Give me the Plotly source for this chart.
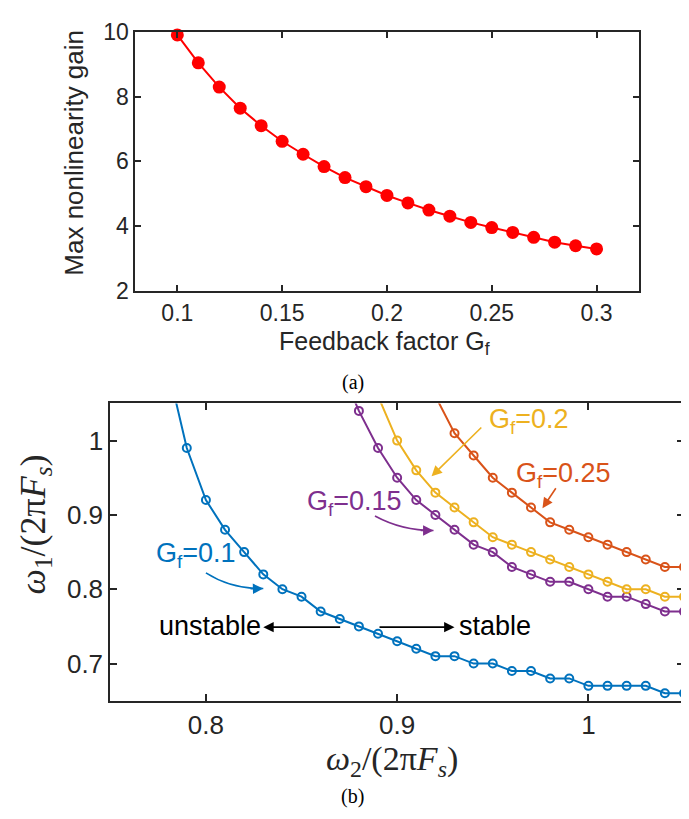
import plotly.graph_objects as go

# ---------- data: panel (a) ----------
gf_values = [0.10, 0.11, 0.12, 0.13, 0.14, 0.15, 0.16, 0.17, 0.18, 0.19, 0.20,
             0.21, 0.22, 0.23, 0.24, 0.25, 0.26, 0.27, 0.28, 0.29, 0.30]
max_gain = [9.90, 9.04, 8.29, 7.64, 7.10, 6.62, 6.22, 5.84, 5.50, 5.22, 4.95,
            4.72, 4.50, 4.31, 4.12, 3.96, 3.81, 3.66, 3.51, 3.40, 3.30]

# ---------- data: panel (b) ----------
w2_g010 = [0.78, 0.79, 0.80, 0.81, 0.82, 0.83, 0.84, 0.85, 0.86, 0.87, 0.88, 0.89, 0.90, 0.91,
           0.92, 0.93, 0.94, 0.95, 0.96, 0.97, 0.98, 0.99, 1.00, 1.01, 1.02, 1.03, 1.04, 1.05]
w1_g010 = [1.10, 0.99, 0.92, 0.88, 0.85, 0.82, 0.80, 0.79, 0.77, 0.76, 0.75, 0.74, 0.73, 0.72,
           0.71, 0.71, 0.70, 0.70, 0.69, 0.69, 0.68, 0.68, 0.67, 0.67, 0.67, 0.67, 0.66, 0.66]

w2_g015 = [0.87, 0.88, 0.89, 0.90, 0.91, 0.92, 0.93, 0.94, 0.95, 0.96, 0.97, 0.98, 0.99,
           1.00, 1.01, 1.02, 1.03, 1.04, 1.05]
w1_g015 = [1.10, 1.04, 0.99, 0.95, 0.92, 0.90, 0.88, 0.86, 0.85, 0.83, 0.82, 0.81, 0.81,
           0.80, 0.79, 0.79, 0.78, 0.77, 0.77]

w2_g020 = [0.89, 0.90, 0.91, 0.92, 0.93, 0.94, 0.95, 0.96, 0.97, 0.98, 0.99, 1.00, 1.01,
           1.02, 1.03, 1.04, 1.05]
w1_g020 = [1.06, 1.00, 0.96, 0.93, 0.91, 0.89, 0.87, 0.86, 0.85, 0.84, 0.83, 0.82, 0.81,
           0.80, 0.80, 0.79, 0.79]

w2_g025 = [0.92, 0.93, 0.94, 0.95, 0.96, 0.97, 0.98, 0.99, 1.00, 1.01, 1.02, 1.03, 1.04, 1.05]
w1_g025 = [1.06, 1.01, 0.98, 0.95, 0.93, 0.91, 0.89, 0.88, 0.87, 0.86, 0.85, 0.84, 0.83, 0.83]

top_xticks = [0.1, 0.15, 0.2, 0.25, 0.3]
top_xlabels = ["0.1", "0.15", "0.2", "0.25", "0.3"]
top_yticks = [2, 4, 6, 8, 10]
bot_xticks = [0.8, 0.9, 1.0]
bot_xlabels = ["0.8", "0.9", "1"]
bot_yticks = [0.7, 0.8, 0.9, 1.0]
bot_ylabels = ["0.7", "0.8", "0.9", "1"]

BLUE = "#0072BD"
ORANGE = "#D95319"
YELLOW = "#EDB120"
PURPLE = "#7E2F8E"
AX = "#262626"
SANS = "Liberation Sans, Arial, sans-serif"
SERIF = "Liberation Serif, Times New Roman, serif"

W, H = 689, 819
BOT_XR = [0.75, 1.05]
BOT_YR = [0.65, 1.05]

fig = go.Figure()

fig.add_trace(go.Scatter(
    x=gf_values, y=max_gain, mode="lines+markers",
    line=dict(color="#FF0000", width=2),
    marker=dict(color="#FF0000", size=13, symbol="circle"),
    cliponaxis=False,
    xaxis="x", yaxis="y", showlegend=False))

for xs, ys, col in [(w2_g010, w1_g010, BLUE), (w2_g015, w1_g015, PURPLE),
                    (w2_g020, w1_g020, YELLOW), (w2_g025, w1_g025, ORANGE)]:
    # line clipped to the axes box
    fig.add_trace(go.Scatter(
        x=xs, y=ys, mode="lines", line=dict(color=col, width=2),
        xaxis="x2", yaxis="y2", showlegend=False))
    # markers that fall inside the axes box, drawn unclipped (like MATLAB)
    inx = [a for a, b in zip(xs, ys) if BOT_XR[0] <= a <= BOT_XR[1] and BOT_YR[0] <= b <= BOT_YR[1]]
    iny = [b for a, b in zip(xs, ys) if BOT_XR[0] <= a <= BOT_XR[1] and BOT_YR[0] <= b <= BOT_YR[1]]
    fig.add_trace(go.Scatter(
        x=inx, y=iny, mode="markers", cliponaxis=False,
        marker=dict(symbol="circle-open", size=8, color=col, line=dict(width=2, color=col)),
        xaxis="x2", yaxis="y2", showlegend=False))

def px_x(p):
    return p / W

def px_y(p):
    return 1 - p / H

axis_common = dict(showline=True, linecolor=AX, linewidth=2, mirror="allticks",
                   ticks="inside", tickcolor=AX, tickwidth=2, showgrid=False,
                   zeroline=False, ticklabeloverflow="allow")

fig.update_layout(
    width=W, height=H,
    margin=dict(l=0, r=0, t=0, b=0),
    paper_bgcolor="white", plot_bgcolor="white",
    xaxis=dict(domain=[px_x(127.4), px_x(630.5)], range=[0.08, 0.32],
               tickvals=top_xticks, ticktext=top_xlabels, ticklen=6,
               tickfont=dict(family=SANS, size=23, color=AX), anchor="y",
               **axis_common),
    yaxis=dict(domain=[px_y(279), px_y(11)], range=[2, 10],
               tickvals=top_yticks, ticklen=6,
               tickfont=dict(family=SANS, size=23, color=AX), anchor="x",
               **axis_common),
    xaxis2=dict(domain=[px_x(102.3), px_x(676)], range=BOT_XR,
                tickvals=bot_xticks, ticktext=bot_xlabels, ticklen=7,
                tickfont=dict(family=SANS, size=26, color=AX), anchor="y2",
                **axis_common),
    yaxis2=dict(domain=[px_y(702), px_y(395)], range=BOT_YR,
                tickvals=bot_yticks, ticktext=bot_ylabels, ticklen=7,
                tickfont=dict(family=SANS, size=26, color=AX), anchor="x2",
                **axis_common),
)

ann = []
# panel (a) titles
ann.append(dict(text="Max nonlinearity gain", x=px_x(66), y=px_y(136), xref="paper", yref="paper",
                textangle=-90, showarrow=False, xanchor="center", yanchor="middle",
                font=dict(family=SANS, size=26, color=AX)))
ann.append(dict(text="Feedback factor G<sub>f</sub>", x=px_x(376), y=px_y(333), xref="paper", yref="paper",
                showarrow=False, xanchor="center", yanchor="middle",
                font=dict(family=SANS, size=25, color=AX)))
ann.append(dict(text="(a)", x=px_x(344.5), y=px_y(373), xref="paper", yref="paper",
                showarrow=False, xanchor="center", yanchor="middle",
                font=dict(family=SERIF, size=20, color="black")))
# panel (b) titles
ann.append(dict(text="<i>ω</i><sub>2</sub>/(2π<i>F</i><sub><i>s</i></sub>)", x=px_x(384), y=px_y(764),
                xref="paper", yref="paper", showarrow=False, xanchor="center", yanchor="middle",
                font=dict(family=SERIF, size=34, color=AX)))
ann.append(dict(text="<i>ω</i><sub>1</sub>/(2π<i>F</i><sub><i>s</i></sub>)", x=px_x(27), y=px_y(520),
                xref="paper", yref="paper", textangle=-90, showarrow=False,
                xanchor="center", yanchor="middle",
                font=dict(family=SERIF, size=36, color=AX)))
ann.append(dict(text="(b)", x=px_x(344.5), y=px_y(801), xref="paper", yref="paper",
                showarrow=False, xanchor="center", yanchor="middle",
                font=dict(family=SERIF, size=20, color="black")))

# curve labels
def label(txt, x, y, col):
    ann.append(dict(text=txt, x=x, y=y, xref="x2", yref="y2", showarrow=False,
                    xanchor="center", yanchor="middle",
                    font=dict(family=SANS, size=27, color=col)))

def arrow(x0, y0, x1, y1, col, width=1.6):
    ann.append(dict(text="", x=x1, y=y1, ax=x0, ay=y0, xref="x2", yref="y2",
                    axref="x2", ayref="y2", showarrow=True, arrowhead=2,
                    arrowsize=1.3, arrowwidth=width, arrowcolor=col))

label("G<sub>f</sub>=0.1", 0.7946, 0.846, BLUE)
label("G<sub>f</sub>=0.15", 0.8777, 0.916, PURPLE)
label("G<sub>f</sub>=0.2", 0.9687, 1.027, YELLOW)
label("G<sub>f</sub>=0.25", 0.9868, 0.954, ORANGE)
ann.append(dict(text="unstable", x=0.802, y=0.750, xref="x2", yref="y2", showarrow=False,
                xanchor="center", yanchor="middle", font=dict(family=SANS, size=27, color="black")))
ann.append(dict(text="stable", x=0.951, y=0.750, xref="x2", yref="y2", showarrow=False,
                xanchor="center", yanchor="middle", font=dict(family=SANS, size=27, color="black")))

arrow(0.8710, 0.749, 0.8300, 0.749, "black")
arrow(0.8900, 0.749, 0.9300, 0.749, "black")
arrow(0.9448, 1.0197, 0.9180, 0.952, YELLOW)
arrow(0.9835, 0.9379, 0.9760, 0.909, ORANGE)

# curved arrows (quadratic bezier body + arrowhead)
shapes = []
def curved(p0, c, p1, col):
    shapes.append(dict(type="path", xref="x2", yref="y2",
                       path=f"M {p0[0]},{p0[1]} Q {c[0]},{c[1]} {p1[0]},{p1[1]}",
                       line=dict(color=col, width=1.6)))
    t = 0.45
    tx = p1[0] - t * (p1[0] - c[0])
    ty = p1[1] - t * (p1[1] - c[1])
    arrow(tx, ty, p1[0], p1[1], col)

curved((0.8000, 0.822), (0.8134, 0.800), (0.8300, 0.801), BLUE)
curved((0.8884, 0.8986), (0.9024, 0.879), (0.9190, 0.879), PURPLE)

fig.update_layout(annotations=ann, shapes=shapes)

fig.write_html("out.html")
